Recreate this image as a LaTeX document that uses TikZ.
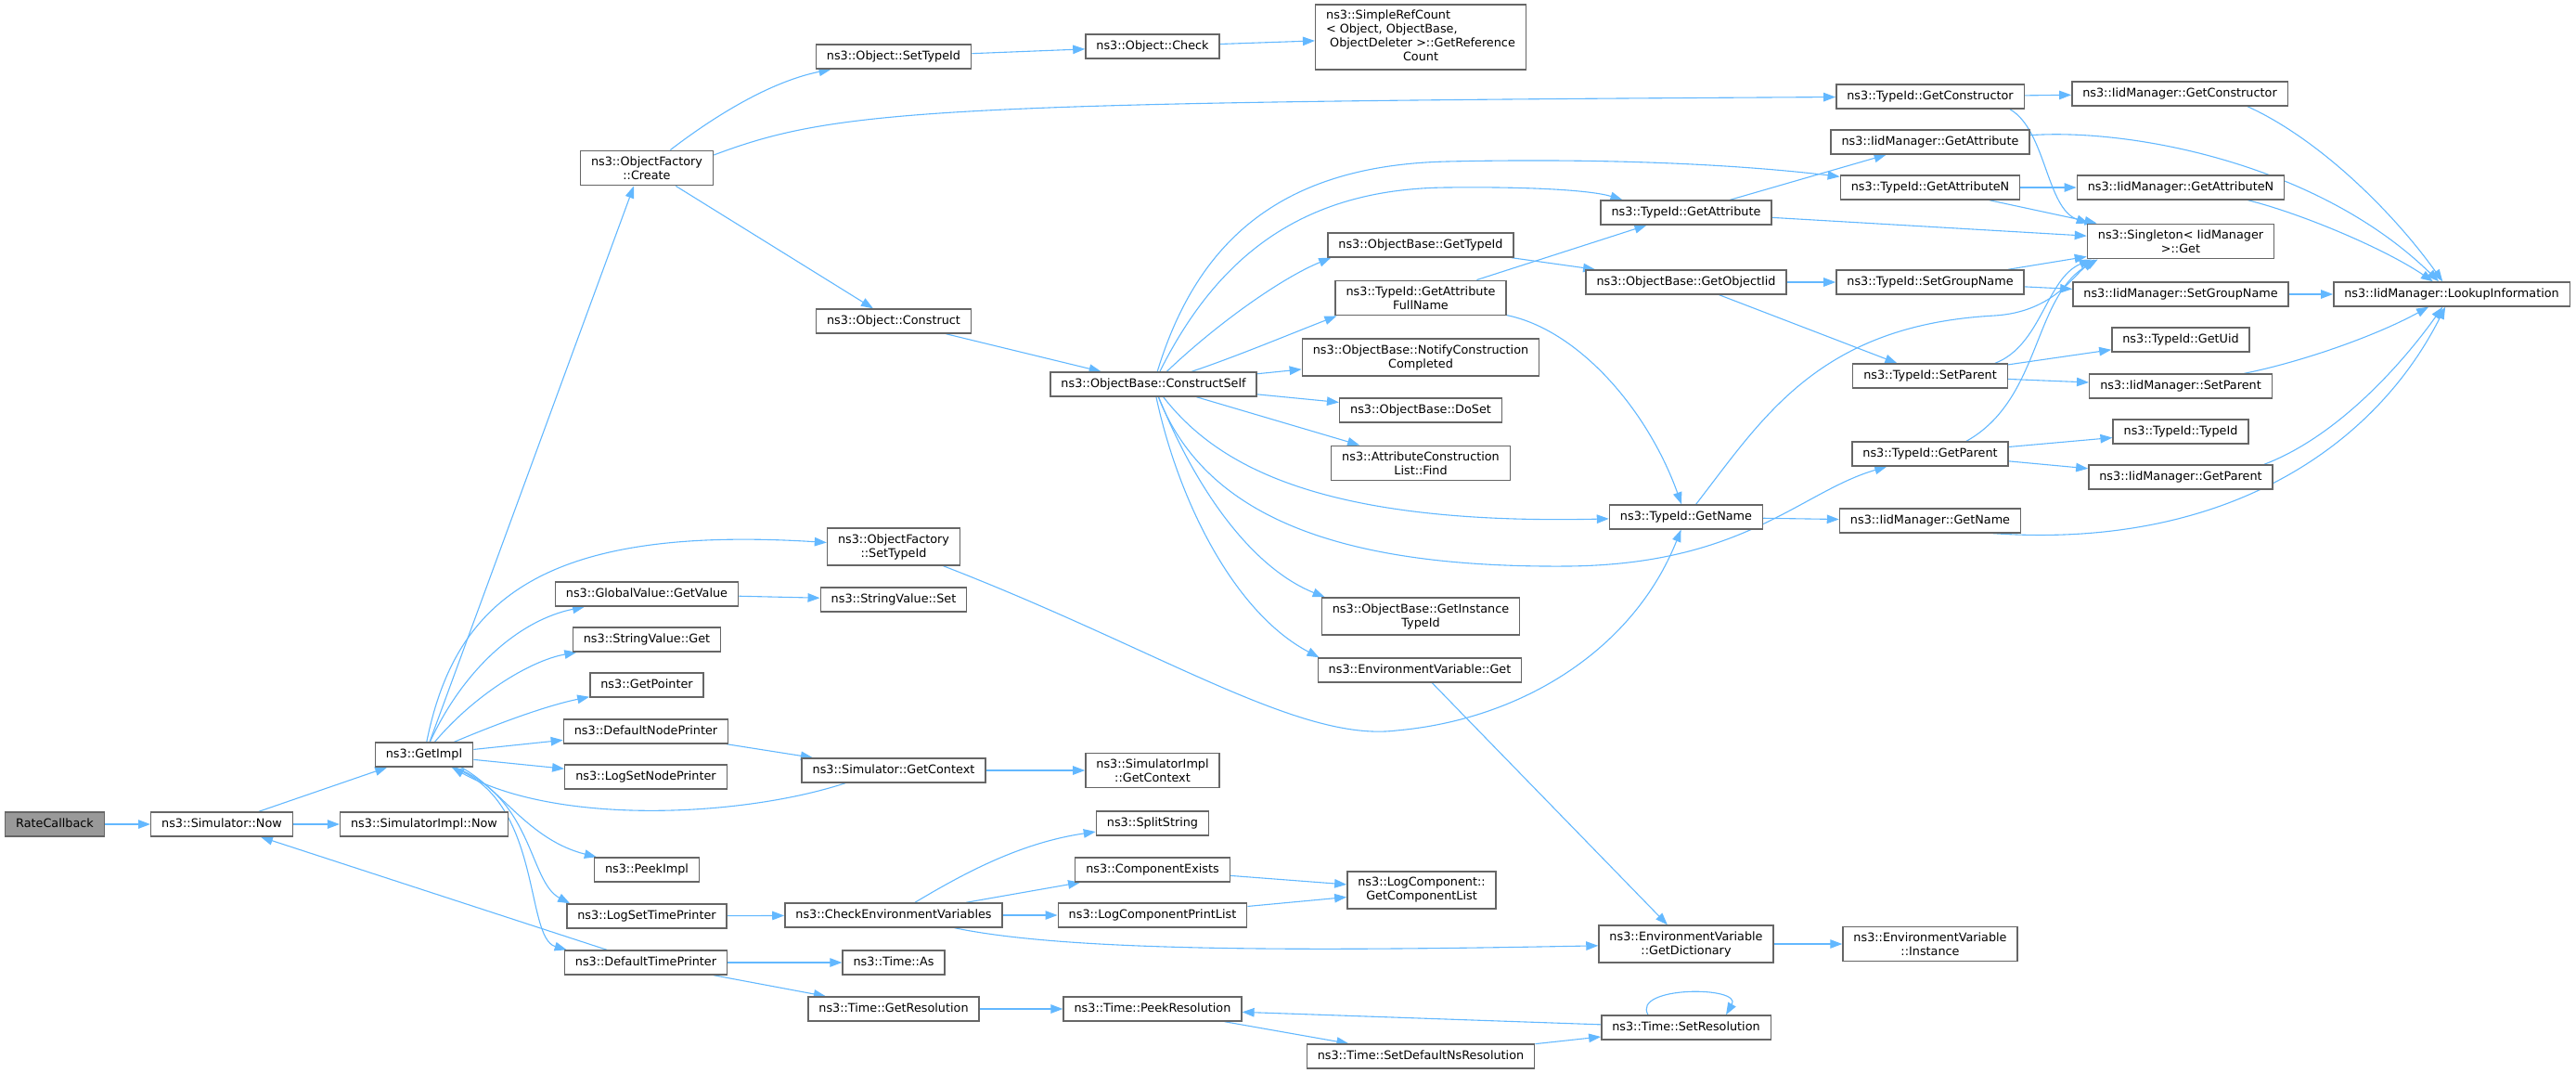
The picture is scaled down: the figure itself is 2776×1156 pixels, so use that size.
\documentclass[tikz,border=0pt]{standalone}
\usepackage{fontspec}
\setmainfont{DejaVu Sans}
\usetikzlibrary{arrows.meta}
\definecolor{edgec}{HTML}{63B8FF}
\definecolor{bordc}{HTML}{666666}
\definecolor{fillc}{HTML}{999999}
\pgfdeclarelayer{edgelayer}
\pgfsetlayers{edgelayer,main}
\begin{document}
\begin{tikzpicture}[x=1pt,y=-1pt,
  nd/.style={draw=bordc, line width=1.4pt, fill=white, font=\fontsize{12.8}{15}\selectfont,
             inner xsep=11.5pt, inner ysep=6.3pt, minimum height=26pt, align=center},
  sl/.style={nd, text height=9.7pt, text depth=3pt},
  e/.style={draw=edgec, line width=1.1pt, -{Triangle[length=13pt,width=9.5pt]}}]
\useasboundingbox (0,0) rectangle (2776,1156);

% nodes
\node[sl,fill=fillc] (rc) at (59,888) {RateCallback};
\node[sl] (snow) at (239,888) {ns3::Simulator::Now};
\node[sl] (gimpl) at (457,813) {ns3::GetImpl};
\node[sl] (sinow) at (457,888) {ns3::SimulatorImpl::Now};
\node[nd] (ofc) at (697,181) {ns3::ObjectFactory\\::Create};
\node[sl] (gvg) at (697,640) {ns3::GlobalValue::GetValue};
\node[sl] (svg) at (697,689) {ns3::StringValue::Get};
\node[sl] (gptr) at (697,738) {ns3::GetPointer};
\node[sl] (dnp) at (696,788) {ns3::DefaultNodePrinter};
\node[sl] (lsnp) at (696,837) {ns3::LogSetNodePrinter};
\node[sl] (peek) at (697,937) {ns3::PeekImpl};
\node[sl] (lstp) at (697,987) {ns3::LogSetTimePrinter};
\node[sl] (dtp) at (696,1037) {ns3::DefaultTimePrinter};
\node[sl] (ostid) at (963,61) {ns3::Object::SetTypeId};
\node[sl] (ocon) at (963,346) {ns3::Object::Construct};
\node[nd] (ofstid) at (963,589) {ns3::ObjectFactory\\::SetTypeId};
\node[sl] (svs) at (963,646) {ns3::StringValue::Set};
\node[sl] (sgc) at (963,830) {ns3::Simulator::GetContext};
\node[sl] (cev) at (963,986) {ns3::CheckEnvironmentVariables};
\node[sl] (tas) at (963,1037) {ns3::Time::As};
\node[sl] (tgr) at (963,1087) {ns3::Time::GetResolution};
\node[sl] (ochk) at (1242,50) {ns3::Object::Check};
\node[sl] (cself) at (1243,414) {ns3::ObjectBase::ConstructSelf};
\node[nd] (sigc) at (1242,830) {ns3::SimulatorImpl\\::GetContext};
\node[sl] (split) at (1242,887) {ns3::SplitString};
\node[sl] (cexist) at (1242,937) {ns3::ComponentExists};
\node[sl] (lcpl) at (1242,986) {ns3::LogComponentPrintList};
\node[sl] (tpr) at (1242,1087) {ns3::Time::PeekResolution};
\node[nd, inner ysep=5pt] (src) at (1531,40) {\begin{tabular}{@{}l@{}}ns3::SimpleRefCount\\< Object, ObjectBase,\\\ ObjectDeleter >::GetReference\\\multicolumn{1}{@{}c@{}}{Count}\end{tabular}};
\node[sl] (obgt) at (1531,264) {ns3::ObjectBase::GetTypeId};
\node[nd] (gafn) at (1531,321) {ns3::TypeId::GetAttribute\\FullName};
\node[nd] (ncc) at (1531,385) {ns3::ObjectBase::NotifyConstruction\\Completed};
\node[sl] (doset) at (1531,442) {ns3::ObjectBase::DoSet};
\node[nd] (acl) at (1531,499) {ns3::AttributeConstruction\\List::Find};
\node[nd] (gitid) at (1531,664) {ns3::ObjectBase::GetInstance\\TypeId};
\node[sl] (evget) at (1530,722) {ns3::EnvironmentVariable::Get};
\node[nd] (lcgcl) at (1532,959) {ns3::LogComponent::\\GetComponentList};
\node[sl] (tsdns) at (1531,1138) {ns3::Time::SetDefaultNsResolution};
\node[sl] (tga) at (1817,229) {ns3::TypeId::GetAttribute};
\node[sl] (goiid) at (1817,304) {ns3::ObjectBase::GetObjectIid};
\node[sl] (tgn) at (1817,557) {ns3::TypeId::GetName};
\node[nd] (evgd) at (1817,1017) {ns3::EnvironmentVariable\\::GetDictionary};
\node[sl] (tsr) at (1817,1107) {ns3::Time::SetResolution};
\node[sl] (tgc) at (2080,104) {ns3::TypeId::GetConstructor};
\node[sl] (imga) at (2080,153) {ns3::IidManager::GetAttribute};
\node[sl] (tgan) at (2080,202) {ns3::TypeId::GetAttributeN};
\node[sl] (tsgn) at (2080,304) {ns3::TypeId::SetGroupName};
\node[sl] (tsp) at (2080,405) {ns3::TypeId::SetParent};
\node[sl] (tgp) at (2080,489) {ns3::TypeId::GetParent};
\node[sl] (imgn) at (2080,561) {ns3::IidManager::GetName};
\node[nd] (evi) at (2080,1017) {ns3::EnvironmentVariable\\::Instance};
\node[sl] (imgc) at (2349,101) {ns3::IidManager::GetConstructor};
\node[sl] (imgan) at (2350,202) {ns3::IidManager::GetAttributeN};
\node[nd] (sing) at (2350,260) {ns3::Singleton< IidManager\\>::Get};
\node[sl] (imsgn) at (2350,317) {ns3::IidManager::SetGroupName};
\node[sl] (tuid) at (2350,366) {ns3::TypeId::GetUid};
\node[sl] (imsp) at (2350,416) {ns3::IidManager::SetParent};
\node[sl] (ttid) at (2350,465) {ns3::TypeId::TypeId};
\node[sl] (imgp) at (2350,514) {ns3::IidManager::GetParent};
\node[sl] (lookup) at (2642,317) {ns3::IidManager::LookupInformation};

\begin{pgfonlayer}{edgelayer}
% edges: left part
\draw[e] (rc) -- (snow);
\draw[e] (snow) -- (gimpl);
\draw[e] (snow) -- (sinow);
\draw[e] (dtp) -- (snow);
\draw[e] ([xshift=6pt]gimpl.north) -- ([xshift=-14pt]ofc.south);
\draw[e] (gimpl) .. controls (490,650) and (580,565) .. (ofstid);
\draw[e] (gimpl) .. controls (500,720) and (560,668) .. (gvg);
\draw[e] (gimpl) .. controls (510,750) and (570,712) .. (svg);
\draw[e] (gimpl) .. controls (540,778) and (590,760) .. (gptr);
\draw[e] (gimpl) -- (dnp);
\draw[e] (gimpl) -- (lsnp);
\draw[e] ([xshift=40pt]gimpl.south) .. controls (540,850) and (570,905) .. ([xshift=3pt]peek.north west);
\draw[e] ([xshift=33pt]gimpl.south) .. controls (575,860) and (570,950) .. ([xshift=4pt]lstp.north west);
\draw[e] ([xshift=30pt]gimpl.south) .. controls (585,860) and (565,1010) .. ([xshift=3pt]dtp.north west);
\draw[e] ([xshift=-52pt]sgc.south) .. controls (800,880) and (600,890) .. ([xshift=30pt]gimpl.south);

\draw[e] (ofc) .. controls (770,125) and (830,88) .. (ostid);
\draw[e] ([yshift=14pt]ofc.east) .. controls (900,118) and (1000,110) .. (tgc);
\draw[e] (ofc) -- (ocon);
\draw[e] (ostid) -- (ochk);
\draw[e] (ochk) -- (src);
\draw[e] (ocon) -- (cself);
\draw[e] (ofstid) .. controls (1250,700) and (1400,800) .. (1505,787) .. controls (1640,775) and (1760,700) .. (tgn);
\draw[e] (gvg) -- (svs);
\draw[e] (dnp) -- (sgc);
\draw[e] (sgc) -- (sigc);
\draw[e] (lstp) -- (cev);
\draw[e] (cev) .. controls (1040,940) and (1100,908) .. (split);
\draw[e] (cev) -- (cexist);
\draw[e] (cev) -- (lcpl);
\draw[e] (cev) .. controls (1150,1025) and (1400,1025) .. (evgd);
\draw[e] (cexist) -- (lcgcl);
\draw[e] (lcpl) -- (lcgcl);
\draw[e] (dtp) -- (tas);
\draw[e] (dtp) -- (tgr);
\draw[e] (tgr) -- (tpr);
\draw[e] (tpr) -- (tsdns);
\draw[e] (tsdns) -- (tsr);
\draw[e] (tsr) -- (tpr);
\draw[e] ([xshift=-41pt]tsr.north) .. controls (1758,1062) and (1878,1062) .. ([xshift=43pt]tsr.north);

% ConstructSelf fan
\draw[e] (cself) .. controls (1290,260) and (1380,178) .. (1560,174) .. controls (1740,170) and (1880,178) .. (tgan);
\draw[e] (cself) .. controls (1310,280) and (1400,203) .. (1560,202) .. controls (1650,201) and (1715,205) .. ([xshift=24pt]tga.north west);
\draw[e] (cself) .. controls (1310,350) and (1380,300) .. ([xshift=4pt]obgt.south west);
\draw[e] (cself) .. controls (1330,385) and (1390,360) .. ([xshift=2pt]gafn.south west);
\draw[e] (cself) -- (ncc);
\draw[e] (cself) -- (doset);
\draw[e] (cself) -- (acl);
\draw[e] (cself) .. controls (1310,500) and (1420,566) .. (tgn);
\draw[e] (cself) .. controls (1300,560) and (1450,612) .. (1690,610) .. controls (1880,608) and (1940,530) .. (tgp);
\draw[e] (cself) .. controls (1290,530) and (1350,612) .. ([xshift=4pt]gitid.north west);
\draw[e] (cself) .. controls (1270,540) and (1330,660) .. ([xshift=2pt]evget.north west);

% middle/right
\draw[e] (obgt) -- (goiid);
\draw[e] (gafn) -- (tga);
\draw[e] (gafn) .. controls (1700,355) and (1775,440) .. (tgn);
\draw[e] (evget) -- (evgd);
\draw[e] (tga) -- (imga);
\draw[e] (tga) -- (sing);
\draw[e] (goiid) -- (tsgn);
\draw[e] (goiid) -- (tsp);
\draw[e] (tgn) .. controls (1900,450) and (1960,350) .. (2150,340) .. controls (2210,336) and (2232,300) .. ([xshift=8pt]sing.south west);
\draw[e] (tgn) -- (imgn);
\draw[e] (evgd) -- (evi);
\draw[e] (tgc) -- (imgc);
\draw[e] ([xshift=-16pt]tgc.south east) .. controls (2205,140) and (2205,225) .. ([xshift=2pt]sing.north west);
\draw[e] (imga) .. controls (2300,138) and (2500,178) .. (lookup);
\draw[e] (tgan) -- (imgan);
\draw[e] (tgan) -- (sing);
\draw[e] (tsgn) -- (sing);
\draw[e] (tsgn) -- (imsgn);
\draw[e] (tsp) -- (tuid);
\draw[e] (tsp) -- (imsp);
\draw[e] ([xshift=-14pt]tsp.north east) .. controls (2200,372) and (2205,300) .. ([xshift=5pt]sing.south west);
\draw[e] (tgp) -- (ttid);
\draw[e] (tgp) -- (imgp);
\draw[e] ([xshift=39pt]tgp.north) .. controls (2200,430) and (2190,320) .. ([xshift=12pt]sing.south west);
\draw[e] ([xshift=-30pt]imgn.south east) .. controls (2400,592) and (2560,480) .. (lookup);
\draw[e] ([xshift=-44pt]imgc.south east) .. controls (2500,150) and (2580,230) .. (lookup);
\draw[e] ([xshift=-40pt]imgan.south east) .. controls (2480,230) and (2570,268) .. (lookup);
\draw[e] (imsgn) -- (lookup);
\draw[e] (imsp) .. controls (2480,390) and (2560,362) .. (lookup);
\draw[e] ([xshift=-10pt]imgp.north east) .. controls (2520,470) and (2590,390) .. (lookup);
\end{pgfonlayer}
\end{tikzpicture}
\end{document}
